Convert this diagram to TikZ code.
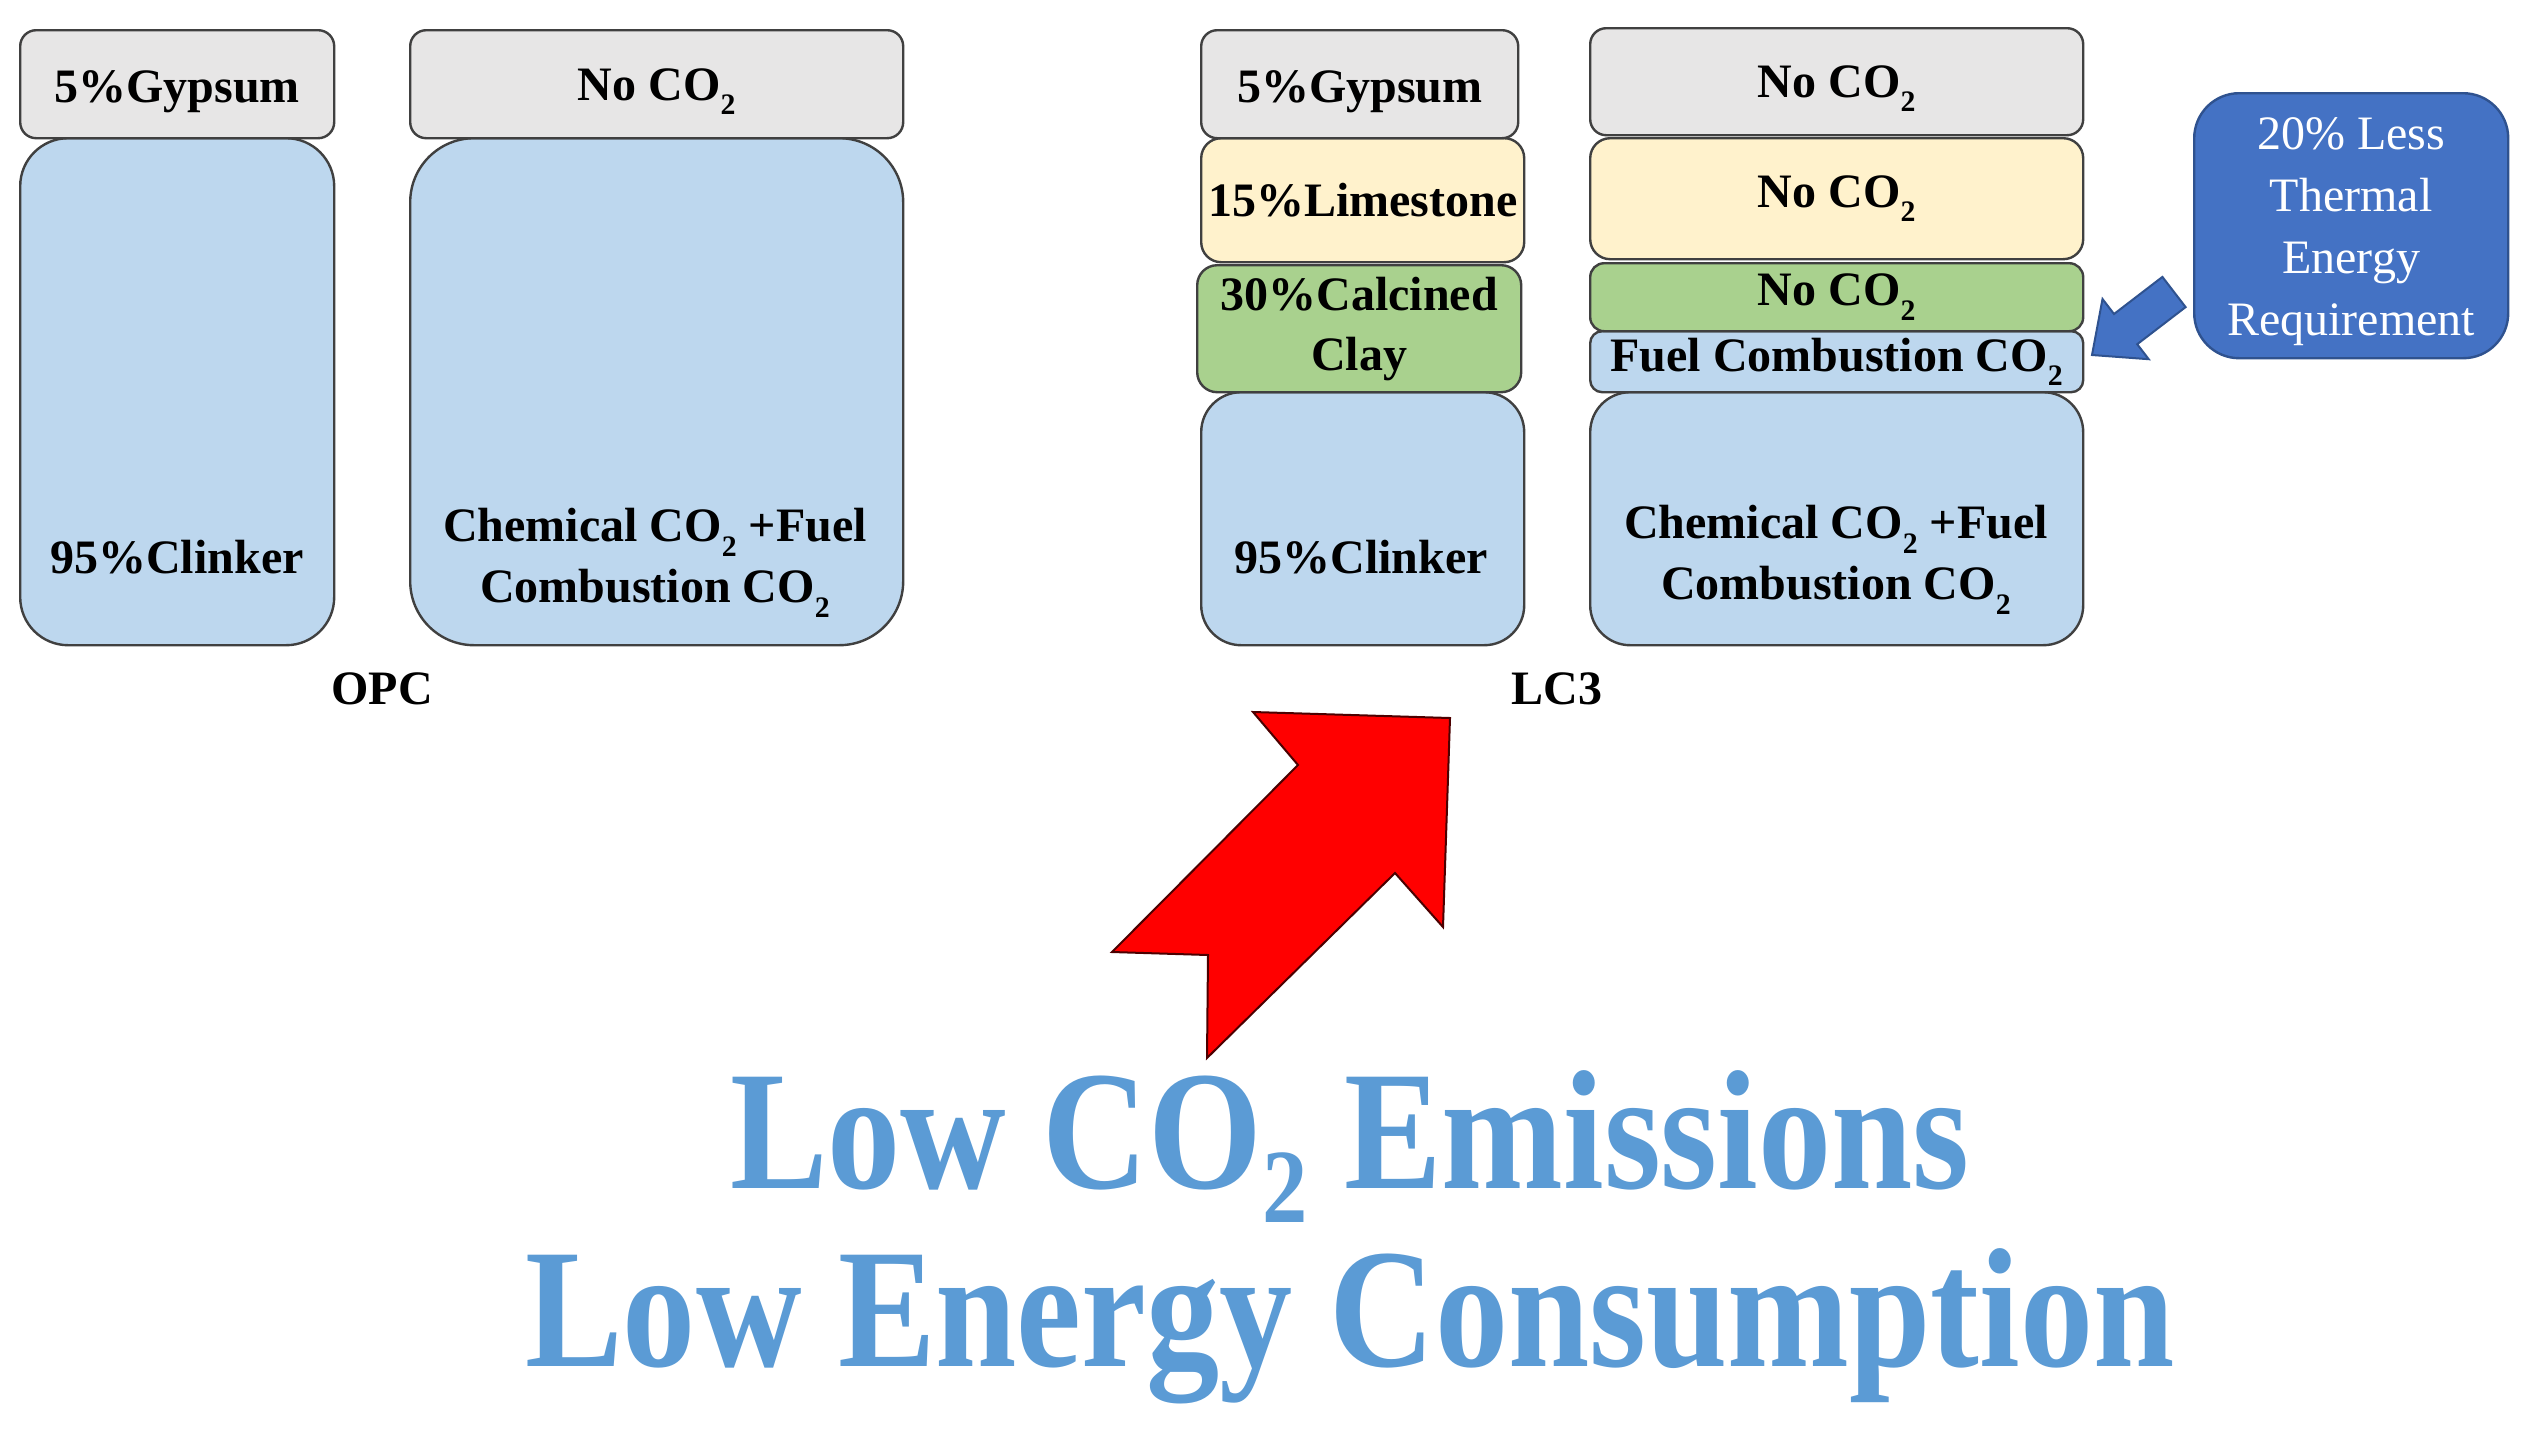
\documentclass[tikz,border=0pt]{standalone}
\usepackage{fontspec}
\setmainfont{Liberation Serif}
\definecolor{gbox}{HTML}{E7E6E6}
\definecolor{bbox}{HTML}{BDD7EE}
\definecolor{ybox}{HTML}{FFF2CC}
\definecolor{grbox}{HTML}{A9D18E}
\definecolor{edgec}{HTML}{404040}
\definecolor{callblue}{HTML}{4472C4}
\definecolor{calledge}{HTML}{2F528F}
\definecolor{bigblue}{HTML}{5B9BD5}
\definecolor{arrred}{HTML}{FF0000}
\newcommand\cotwo{CO\raisebox{-0.3em}{\scalebox{0.62}{2}}}
\newcommand\bigcotwo{CO\raisebox{-0.2em}{\scalebox{0.62}{2}}}
\begin{document}
\begin{tikzpicture}[x=1pt,y=-1pt,
  layer/.style={draw=edgec, line width=2.4pt, inner sep=0pt, anchor=north west,
    font=\fontsize{48}{60}\selectfont\bfseries, align=center},
  boxtext/.style={font=\fontsize{48}{61}\selectfont\bfseries, align=center, inner sep=0pt},
  caption/.style={font=\fontsize{48}{60}\selectfont\bfseries, inner sep=0pt},
  bigtext/.style={font=\fontsize{170}{180}\selectfont\bfseries, text=bigblue, inner sep=0pt, anchor=base}]
\useasboundingbox[fill=white] (0,0) rectangle (2525,1428);
% OPC
\node[layer, fill=bbox, minimum width=314pt, minimum height=507pt, rounded corners=48pt] (c1) at (19,137) {};
\node[layer, fill=gbox, minimum width=314pt, minimum height=108pt, rounded corners=16pt, text height=46pt] (g1) at (19,29) {5\%Gypsum};
\node[layer, fill=bbox, minimum width=493pt, minimum height=507pt, rounded corners=64pt] (ch1) at (409,137) {};
\node[layer, fill=gbox, minimum width=493pt, minimum height=108pt, rounded corners=16pt, text height=46pt] (n1) at (409,29) {No \cotwo};
\node[boxtext] (tc1) at (177,557) {95\%Clinker};
\node[boxtext] (tch1) at (655,563) {Chemical \cotwo{} +Fuel\\Combustion \cotwo};
\node[caption] (opc) at (382,689) {OPC};
% LC3
\node[layer, fill=bbox, minimum width=323pt, minimum height=253pt, rounded corners=40pt] (c2) at (1200,391) {};
\node[layer, fill=grbox, minimum width=324pt, minimum height=127pt, rounded corners=20pt] (cl2) at (1196,264) {\fontsize{48}{61}\selectfont 30\%Calcined\\Clay};
\node[layer, fill=ybox, minimum width=323pt, minimum height=124pt, rounded corners=20pt] (l2) at (1200,137) {15\%Limestone};
\node[layer, fill=gbox, minimum width=317pt, minimum height=108pt, rounded corners=16pt, text height=46pt] (g2) at (1200,29) {5\%Gypsum};
\node[layer, fill=bbox, minimum width=493pt, minimum height=253pt, rounded corners=40pt] (ch2) at (1589,391) {};
\node[layer, fill=bbox, minimum width=493pt, minimum height=61pt, rounded corners=12pt] (f2) at (1589,330) {Fuel Combustion \cotwo};
\node[layer, fill=grbox, minimum width=493pt, minimum height=68pt, rounded corners=14pt] (ng2) at (1589,262) {No \cotwo};
\node[layer, fill=ybox, minimum width=493pt, minimum height=121pt, rounded corners=20pt] (ny2) at (1589,137) {No \cotwo};
\node[layer, fill=gbox, minimum width=493pt, minimum height=107pt, rounded corners=16pt, text height=46pt] (n2) at (1589,27) {No \cotwo};
\node[boxtext] (tc2) at (1361,557) {95\%Clinker};
\node[boxtext] (tch2) at (1836,560) {Chemical \cotwo{} +Fuel\\Combustion \cotwo};
\node[caption] (lc3) at (1557,689) {LC3};
% callout
\node[draw=calledge, fill=callblue, line width=2.4pt, anchor=north west, minimum width=314pt, minimum height=265pt,
  rounded corners=45pt, inner sep=0pt] (call) at (2193,92) {};
\node[text=white, align=center, font=\fontsize{48}{62}\selectfont, inner sep=0pt]
  (callt) at ([yshift=-6pt]call.center) {20\% Less\\Thermal\\Energy\\Requirement};
% blue block arrow
\draw[fill=callblue, draw=calledge, line width=2pt, line join=miter]
  (2185.6,307.1) -- (2137.2,344.2) -- (2148.7,359.2) -- (2092,355) -- (2102.5,299.0)
  -- (2114.0,314.0) -- (2162.4,276.9) -- cycle;
% red bent arrow
\draw[fill=arrred, draw=black!70!red, line width=2pt, line join=miter]
  (1253,712) -- (1450,718) -- (1443,927) -- (1395,873) -- (1207,1058) -- (1208,955)
  -- (1112,952) -- (1298,765) -- cycle;
% big text
\node[bigtext] (big1) at (1350,1188) {\scalebox{0.86}[1]{Low \bigcotwo{} Emissions}};
\node[bigtext] (big2) at (1350,1366) {\scalebox{0.86}[1]{Low Energy Consumption}};
\end{tikzpicture}
\end{document}
